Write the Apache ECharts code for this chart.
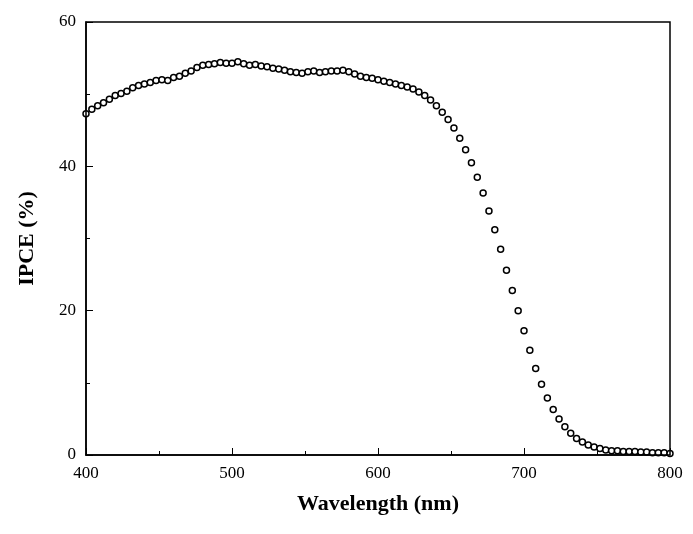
<!DOCTYPE html>
<html>
<head>
<meta charset="UTF-8">
<script src="https://cdn.jsdelivr.net/npm/echarts@6/dist/echarts.min.js"></script>
<style>html,body{margin:0;background:#fff}#c{width:693px;height:534px}</style>
</head>
<body>
<div id="c"></div>
<script>
// wavelength 400..800 nm, step 4
var wavelengths = [];
for (var w = 400; w <= 800; w += 4) wavelengths.push(w);
var ipce = [
  47.3,47.9,48.4,48.8,49.3,49.8,50.1,50.4,50.9,51.2,
  51.4,51.6,51.9,52.0,51.9,52.3,52.5,52.9,53.2,53.7,
  54.0,54.1,54.2,54.4,54.3,54.3,54.5,54.2,54.0,54.1,
  53.9,53.8,53.6,53.5,53.3,53.1,53.0,52.9,53.1,53.2,
  53.0,53.1,53.2,53.2,53.3,53.1,52.8,52.5,52.3,52.2,
  52.0,51.8,51.6,51.4,51.2,51.0,50.7,50.3,49.8,49.2,
  48.4,47.5,46.5,45.3,43.9,42.3,40.5,38.5,36.3,33.8,
  31.2,28.5,25.6,22.8,20.0,17.2,14.5,12.0,9.8,7.9,
  6.3,5.0,3.9,3.0,2.3,1.8,1.4,1.1,0.9,0.7,
  0.6,0.6,0.5,0.5,0.5,0.4,0.4,0.3,0.3,0.3,0.2
];
var data = wavelengths.map(function (x, i) { return [x, ipce[i]]; });
var font = 'Liberation Serif';
var chart = echarts.init(document.getElementById('c'));
chart.setOption({
  animation: false,
  grid: { left: 86, right: 23, top: 22, bottom: 79 },
  xAxis: {
    type: 'value', min: 400, max: 800, interval: 100,
    name: 'Wavelength (nm)', nameLocation: 'middle', nameGap: 38,
    nameTextStyle: { fontFamily: font, fontSize: 22, fontWeight: 'bold', color: '#000' },
    axisLine: { lineStyle: { color: '#000', width: 1.5 } },
    axisTick: { inside: true, length: 7, lineStyle: { color: '#000' } },
    minorTick: { show: true, splitNumber: 2, length: 4, lineStyle: { color: '#000' } },
    axisLabel: { fontFamily: font, fontSize: 17, color: '#000', margin: 10 },
    splitLine: { show: false }
  },
  yAxis: {
    type: 'value', min: 0, max: 60, interval: 20,
    name: 'IPCE (%)', nameLocation: 'middle', nameGap: 48, nameRotate: 90,
    nameTextStyle: { fontFamily: font, fontSize: 22, fontWeight: 'bold', color: '#000' },
    axisLine: { lineStyle: { color: '#000', width: 1.5 } },
    axisTick: { inside: true, length: 7, lineStyle: { color: '#000' } },
    minorTick: { show: true, splitNumber: 2, length: 4, lineStyle: { color: '#000' } },
    axisLabel: { fontFamily: font, fontSize: 17, color: '#000', margin: 10 },
    splitLine: { show: false }
  },
  series: [{
    type: 'line', data: data, symbol: 'circle', symbolSize: 6, showSymbol: true,
    lineStyle: { width: 0 },
    itemStyle: { color: '#fff', borderColor: '#000', borderWidth: 1.5 }
  }],
  graphic: [{
    type: 'rect', shape: { x: 86, y: 22, width: 584, height: 433 },
    style: { fill: 'none', stroke: '#000', lineWidth: 1.5 }, silent: true, z: 10
  }]
});
</script>
</body>
</html>
